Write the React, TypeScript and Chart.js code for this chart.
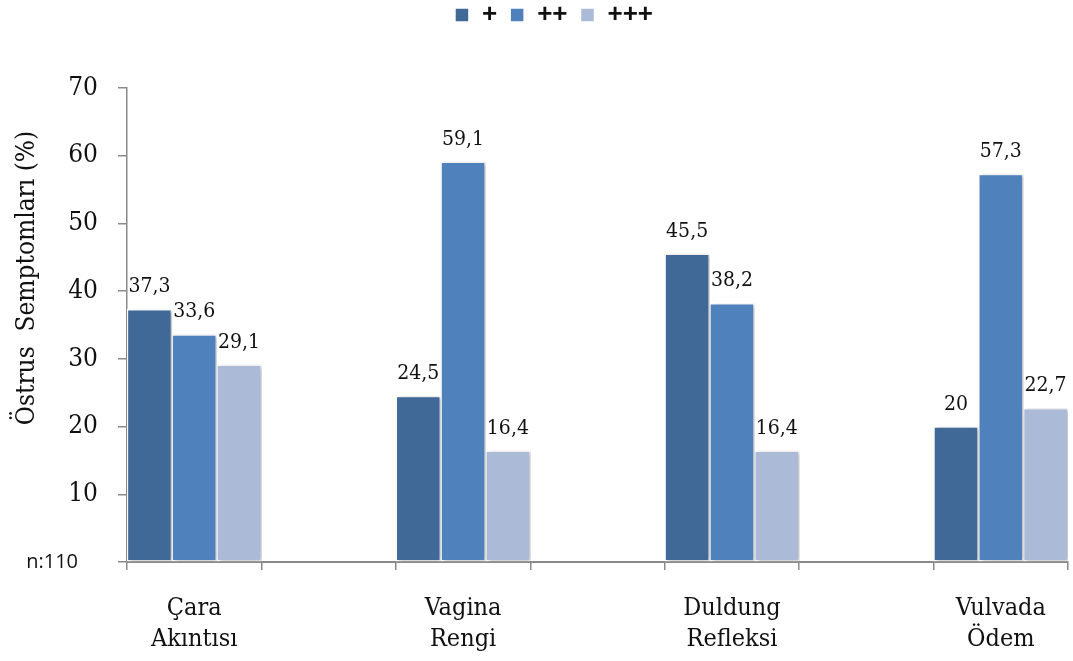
import React, { useEffect, useRef } from "react";
import { Chart, registerables } from "chart.js";

Chart.register(...registerables);

// Estrus symptom categories (two-line labels)
const categories: string[][] = [
  ["Çara", "Akıntısı"],
  ["Vagina", "Rengi"],
  ["Duldung", "Refleksi"],
  ["Vulvada", "Ödem"],
];

// Series labels and percentages per category
const seriesNames = ["+", "++", "+++"];
const plusValues = [37.3, 24.5, 45.5, 20];
const doublePlusValues = [33.6, 59.1, 38.2, 57.3];
const triplePlusValues = [29.1, 16.4, 16.4, 22.7];

const seriesColors = ["#406998", "#4F81BD", "#AABAD7"];

// Value axis
const yMin = 0;
const yMax = 70;
const yStep = 10;
const zeroTickLabel = "n:110";
const yAxisTitle = "Östrus  Semptomları (%)";

const SERIF = "'DejaVu Serif Condensed', 'DejaVu Serif', serif";
const SANS = "'Open Sans', 'Liberation Sans', sans-serif";
const LEGEND_FONT = "'Liberation Sans', Arial, sans-serif";
const AXIS_GRAY = "#8a8a8a";

// Each category is followed by an empty slot so groups sit apart
function spaced<T>(items: T[], filler: T): T[] {
  const out: T[] = [];
  items.forEach((it, i) => {
    out.push(it);
    if (i < items.length - 1) out.push(filler);
  });
  return out;
}

const fmt = (v: number) => String(v).replace(".", ",");

const decorPlugin = {
  id: "decor",
  afterLayout(chart: any) {
    // legend row sits near the top edge, slightly right of centre
    const lg = chart.legend;
    if (lg) {
      lg.top -= 50;
      lg.bottom -= 50;
      lg.left += 20;
      lg.right += 20;
    }
  },
  beforeDatasetsDraw(chart: any) {
    const ctx = chart.ctx;
    ctx.save();
    ctx.shadowColor = "rgba(0,0,0,0.28)";
    ctx.shadowBlur = 4;
    ctx.shadowOffsetX = 2;
    ctx.shadowOffsetY = 1;
  },
  afterDatasetsDraw(chart: any) {
    const ctx = chart.ctx;
    ctx.restore();
    ctx.save();
    ctx.font = `21px ${SERIF}`;
    ctx.fillStyle = "#111";
    ctx.textAlign = "center";
    ctx.textBaseline = "alphabetic";
    chart.data.datasets.forEach((ds: any, di: number) => {
      const meta = chart.getDatasetMeta(di);
      meta.data.forEach((bar: any, i: number) => {
        const v = ds.data[i];
        if (v === null || v === undefined) return;
        ctx.fillText(fmt(v), bar.x, bar.y - 17);
      });
    });
    ctx.restore();
  },
  afterDraw(chart: any) {
    const ctx = chart.ctx;
    ctx.save();
    ctx.translate(34, 278);
    ctx.rotate(-Math.PI / 2);
    ctx.font = `26px ${SERIF}`;
    ctx.fillStyle = "#111";
    ctx.textAlign = "center";
    ctx.textBaseline = "alphabetic";
    ctx.fillText(yAxisTitle, 0, 0);
    ctx.restore();
  },
};

export default function App() {
  const canvasRef = useRef<HTMLCanvasElement | null>(null);

  useEffect(() => {
    const canvas = canvasRef.current;
    if (!canvas) return;

    const labels = spaced<string[] | string>(categories, "");
    const seriesData = [plusValues, doublePlusValues, triplePlusValues];

    const chart = new Chart(canvas, {
      type: "bar",
      data: {
        labels,
        datasets: seriesNames.map((name, i) => ({
          label: name,
          data: spaced<number | null>(seriesData[i], null),
          backgroundColor: seriesColors[i],
          borderColor: "#ffffff",
          borderWidth: 1.5,
          borderSkipped: false,
          barPercentage: 1,
          categoryPercentage: 1,
        })),
      },
      options: {
        animation: false,
        responsive: false,
        maintainAspectRatio: false,
        layout: { padding: { top: 39, right: 5, bottom: 0, left: 0 } },
        plugins: {
          legend: {
            display: true,
            position: "top",
            labels: {
              boxWidth: 14,
              boxHeight: 14,
              padding: 13,
              color: "#111",
              font: { family: LEGEND_FONT, size: 26, weight: "bold" },
            },
          },
          tooltip: { enabled: false },
        },
        scales: {
          x: {
            offset: true,
            grid: {
              display: true,
              offset: true,
              drawOnChartArea: false,
              drawTicks: true,
              tickLength: 8,
              color: AXIS_GRAY,
              lineWidth: 1.5,
            },
            border: { display: true, color: AXIS_GRAY, width: 2 },
            ticks: {
              autoSkip: false,
              maxRotation: 0,
              minRotation: 0,
              padding: 23,
              color: "#111",
              font: { family: SERIF, size: 25, lineHeight: 1.24 },
            },
            afterFit(scale: any) {
              scale.height = 99;
            },
          },
          y: {
            min: yMin,
            max: yMax,
            grid: {
              display: true,
              drawOnChartArea: false,
              drawTicks: true,
              tickLength: 9,
              color: AXIS_GRAY,
              lineWidth: 1.5,
            },
            border: { display: true, color: AXIS_GRAY, width: 1.5 },
            ticks: {
              stepSize: yStep,
              padding: 20,
              color: "#111",
              font: (c: any) =>
                c.tick && c.tick.value === 0
                  ? { family: SANS, size: 20 }
                  : { family: SERIF, size: 26 },
              callback: (v: any) => (Number(v) === 0 ? zeroTickLabel + "\u2003" : String(v)),
            },
            afterFit(scale: any) {
              scale.width = 127;
            },
          },
        },
      },
      plugins: [decorPlugin],
    });

    return () => chart.destroy();
  }, []);

  return (
    <div style={{ position: "fixed", left: 0, top: 0, width: 1073, height: 661, background: "#fff" }}>
      <canvas ref={canvasRef} width={1073} height={661} style={{ display: "block" }} />
    </div>
  );
}
